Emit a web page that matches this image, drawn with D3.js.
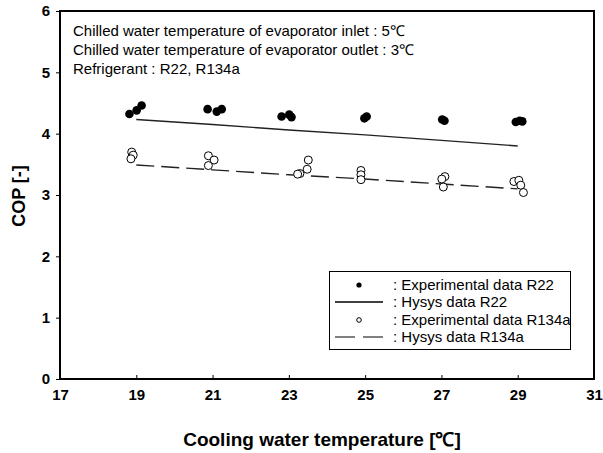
<!DOCTYPE html>
<html><head><meta charset="utf-8">
<script src="https://cdn.jsdelivr.net/npm/d3@7"></script>
<style>body{margin:0;background:#fff}</style>
</head><body>
<svg id="c" width="603" height="453"></svg>
<script>
const xTicks = [17,19,21,23,25,27,29,31];
const yTicks = [0,1,2,3,4,5,6];
const hysysX = [19,21,23,25,27,29];
const hysysR22 = [4.23,4.15,4.06,3.98,3.89,3.80];
const hysysR134a = [3.49,3.41,3.33,3.26,3.18,3.10];
const expR22X = [18.82,19.01,19.14,20.87,21.11,21.24,22.81,23.01,23.07,24.98,25.04,27.02,27.08,28.95,29.05,29.12];
const expR22Y = [4.32,4.38,4.46,4.40,4.36,4.40,4.28,4.31,4.27,4.25,4.28,4.23,4.21,4.19,4.21,4.20];
const expR134aX = [18.88,18.92,18.86,20.89,21.04,20.89,23.51,23.48,23.29,23.23,24.89,24.89,24.89,27.09,27.01,27.05,28.90,29.03,29.08,29.15];
const expR134aY = [3.70,3.65,3.59,3.64,3.57,3.48,3.57,3.42,3.35,3.34,3.40,3.33,3.25,3.30,3.26,3.13,3.22,3.24,3.16,3.04];
const notes = ["Chilled water temperature of evaporator inlet : 5℃","Chilled water temperature of evaporator outlet : 3℃","Refrigerant : R22, R134a"];
const legendLabels = [": Experimental data R22",": Hysys data R22",": Experimental data R134a",": Hysys data R134a"];

const svg = d3.select("#c");
const L=60,R=594,T=11,B=379;
const x = d3.scaleLinear().domain([17,31]).range([L,R]);
const y = d3.scaleLinear().domain([0,6]).range([B,T]);
const font = "'Liberation Sans', Arial, sans-serif";

// axes
const xa = svg.append("g").attr("transform",`translate(0,${B})`)
  .call(d3.axisBottom(x).tickValues(xTicks).tickFormat(d3.format("d")).tickSizeInner(-4).tickSizeOuter(0).tickPadding(10));
xa.select(".domain").remove();
xa.selectAll("text").attr("font-family",font).attr("font-size",15).attr("font-weight","bold").attr("fill","#000");
xa.selectAll("line").attr("stroke","#000");
const ya = svg.append("g").attr("transform",`translate(${L},0)`)
  .call(d3.axisLeft(y).tickValues(yTicks).tickFormat(d3.format("d")).tickSizeInner(4).tickSizeOuter(0).tickPadding(6));
ya.select(".domain").remove();
ya.selectAll("text").attr("font-family",font).attr("font-size",15).attr("font-weight","bold").attr("fill","#000");
ya.selectAll("line").attr("stroke","#000");

svg.append("rect").attr("x",L).attr("y",T).attr("width",R-L).attr("height",B-T)
  .attr("fill","none").attr("stroke","#000").attr("stroke-width",2);

// hysys lines
const line = d3.line().x(d=>x(d[0])).y(d=>y(d[1]));
svg.append("path").datum(hysysX.map((v,i)=>[v,hysysR22[i]])).attr("d",line)
  .attr("fill","none").attr("stroke","#222").attr("stroke-width",1.4);
svg.append("path").datum(hysysX.map((v,i)=>[v,hysysR134a[i]])).attr("d",line)
  .attr("fill","none").attr("stroke","#222").attr("stroke-width",1.4).attr("stroke-dasharray","18,7");

// experimental points
svg.append("g").selectAll("circle").data(expR22X.map((v,i)=>[v,expR22Y[i]])).join("circle")
  .attr("cx",d=>x(d[0])).attr("cy",d=>y(d[1])).attr("r",4.3).attr("fill","#000");
svg.append("g").selectAll("circle").data(expR134aX.map((v,i)=>[v,expR134aY[i]])).join("circle")
  .attr("cx",d=>x(d[0])).attr("cy",d=>y(d[1])).attr("r",4).attr("fill","#fff").attr("stroke","#000").attr("stroke-width",1);

// notes
svg.append("g").selectAll("text").data(notes).join("text")
  .attr("x",73).attr("y",(d,i)=>36+i*19).text(d=>d)
  .attr("font-family",font).attr("font-size",15).attr("fill","#000");

// legend
const lg = svg.append("g");
lg.append("rect").attr("x",329.5).attr("y",271.5).attr("width",241).attr("height",78)
  .attr("fill","#fff").attr("stroke","#000").attr("stroke-width",1);
const rowY = [285,302,320,337];
lg.append("circle").attr("cx",359).attr("cy",rowY[0]).attr("r",2.6).attr("fill","#000");
lg.append("line").attr("x1",335).attr("x2",383).attr("y1",rowY[1]).attr("y2",rowY[1]).attr("stroke","#000").attr("stroke-width",1.6);
lg.append("circle").attr("cx",359).attr("cy",rowY[2]).attr("r",2.3).attr("fill","#fff").attr("stroke","#000");
lg.append("line").attr("x1",335).attr("x2",383).attr("y1",rowY[3]).attr("y2",rowY[3]).attr("stroke","#000").attr("stroke-width",1).attr("stroke-dasharray","20,8");
lg.selectAll("text.l").data(legendLabels).join("text").attr("class","l")
  .attr("x",393).attr("y",(d,i)=>rowY[i]+5).text(d=>d)
  .attr("font-family",font).attr("font-size",15).attr("fill","#000");

// axis titles
svg.append("text").attr("x",322).attr("y",446).attr("text-anchor","middle")
  .attr("font-family",font).attr("font-size",19).attr("font-weight","bold").text("Cooling water temperature [℃]");
svg.append("text").attr("transform","translate(25,196) rotate(-90)").attr("text-anchor","middle")
  .attr("font-family",font).attr("font-size",18).attr("font-weight","bold").text("COP [-]");
</script>
</body></html>
